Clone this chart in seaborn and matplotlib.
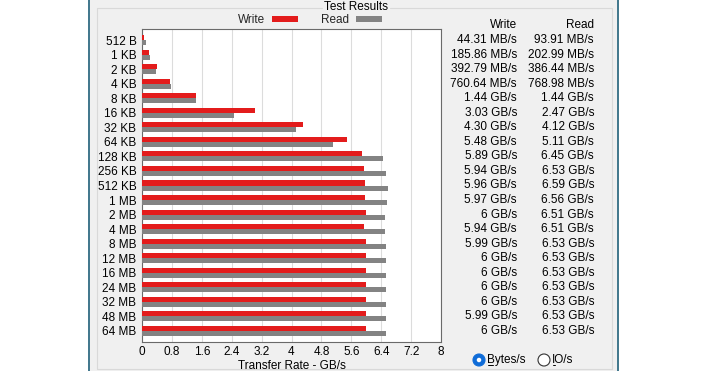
import matplotlib
matplotlib.use("Agg")
import matplotlib.pyplot as plt
import matplotlib.transforms as mtransforms
from matplotlib.patches import Rectangle, Ellipse
from matplotlib.lines import Line2D
import seaborn as sns
import pandas as pd

# ---- data ----
sizes = ["512 B", "1 KB", "2 KB", "4 KB", "8 KB", "16 KB", "32 KB", "64 KB",
         "128 KB", "256 KB", "512 KB", "1 MB", "2 MB", "4 MB", "8 MB",
         "12 MB", "16 MB", "24 MB", "32 MB", "48 MB", "64 MB"]
write_gbs = [0.04431, 0.18586, 0.39279, 0.76064, 1.44, 3.03, 4.30, 5.48,
             5.89, 5.94, 5.96, 5.97, 6.00, 5.94, 5.99, 6.00, 6.00, 6.00,
             6.00, 5.99, 6.00]
read_gbs = [0.09391, 0.20299, 0.38644, 0.76898, 1.44, 2.47, 4.12, 5.11,
            6.45, 6.53, 6.59, 6.56, 6.51, 6.51, 6.53, 6.53, 6.53, 6.53,
            6.53, 6.53, 6.53]
write_labels = ["44.31 MB/s", "185.86 MB/s", "392.79 MB/s", "760.64 MB/s",
                "1.44 GB/s", "3.03 GB/s", "4.30 GB/s", "5.48 GB/s",
                "5.89 GB/s", "5.94 GB/s", "5.96 GB/s", "5.97 GB/s", "6 GB/s",
                "5.94 GB/s", "5.99 GB/s", "6 GB/s", "6 GB/s", "6 GB/s",
                "6 GB/s", "5.99 GB/s", "6 GB/s"]
read_labels = ["93.91 MB/s", "202.99 MB/s", "386.44 MB/s", "768.98 MB/s",
               "1.44 GB/s", "2.47 GB/s", "4.12 GB/s", "5.11 GB/s",
               "6.45 GB/s", "6.53 GB/s", "6.59 GB/s", "6.56 GB/s",
               "6.51 GB/s", "6.51 GB/s", "6.53 GB/s", "6.53 GB/s",
               "6.53 GB/s", "6.53 GB/s", "6.53 GB/s", "6.53 GB/s",
               "6.53 GB/s"]
x_ticks = [0, 0.8, 1.6, 2.4, 3.2, 4, 4.8, 5.6, 6.4, 7.2, 8]
x_tick_labels = ["0", "0.8", "1.6", "2.4", "3.2", "4", "4.8", "5.6", "6.4",
                 "7.2", "8"]
series = ["Write", "Read"]

df = pd.DataFrame({
    "size": sizes * 2,
    "rate": write_gbs + read_gbs,
    "kind": [series[0]] * len(sizes) + [series[1]] * len(sizes),
})

# ---- style ----
sns.set_theme(style="white")
plt.rcParams["font.family"] = ["Liberation Sans", "DejaVu Sans"]
FS = 8.5
plt.rcParams["font.size"] = FS

W, H = 708, 371
fig = plt.figure(figsize=(W / 100, H / 100), dpi=100)
fig.patch.set_facecolor("white")

def fx(px):
    return px / W

def fy(py):
    return 1 - py / H

PANEL = "#f0f0f0"
TXT = "#000000"
RED = "#e31c1c"
GRAY = "#838383"

# window panel
fig.add_artist(Rectangle((fx(90), 0), fx(617) - fx(90), 1,
                         transform=fig.transFigure, facecolor=PANEL,
                         edgecolor="none", zorder=-5))
for xp in (89.5, 617.5):
    fig.add_artist(Line2D([fx(xp), fx(xp)], [0, 1], transform=fig.transFigure,
                          color="#1f5f78", lw=1.2, zorder=-4))
# group box
gb = "#d9d9d9"
def gline(x0, y0, x1, y1):
    fig.add_artist(Line2D([fx(x0), fx(x1)], [fy(y0), fy(y1)],
                          transform=fig.transFigure, color=gb, lw=0.8,
                          zorder=-4))
gline(97, 8, 97, 369)
gline(612, 8, 612, 369)
gline(97, 369, 612, 369)
gline(97, 8, 322, 8)
gline(390, 8, 612, 8)
fig.text(fx(356), fy(7), "Test Results", ha="center", va="center",
         fontsize=FS, color=TXT)

# main axes
ax = fig.add_axes([fx(142), fy(342), fx(441) - fx(142), (342 - 29) / H])
ax.set_zorder(2)
ax.set_facecolor("white")

sns.barplot(data=df, y="size", x="rate", hue="kind", order=sizes,
            hue_order=series, palette=[RED, GRAY], orient="h",
            width=0.69, saturation=1, errorbar=None, linewidth=0, ax=ax,
            zorder=3)

ax.set_xlim(0, 8)
ax.set_ylim(len(sizes) - 1 + 0.76, -0.76)
ax.set_xticks(x_ticks)
ax.set_xticklabels(x_tick_labels)
ax.tick_params(axis="both", length=0, labelsize=FS, colors=TXT)
ax.tick_params(axis="x", pad=3)
ax.tick_params(axis="y", pad=4)
ax.grid(axis="x", color="#dcdcdc", lw=0.8, zorder=0)
ax.grid(axis="y", visible=False)
ax.set_axisbelow(True)
for s in ax.spines.values():
    s.set_color("#6a6a6a")
    s.set_linewidth(0.8)
ax.set_ylabel("")
ax.set_xlabel("Transfer Rate - GB/s", fontsize=FS, color=TXT, labelpad=1)

sns.move_legend(ax, "center", bbox_to_anchor=(fx(310), fy(20)),
                bbox_transform=fig.transFigure, ncol=2, frameon=False,
                title=None, markerfirst=False, handlelength=2.2,
                handleheight=0.45, handletextpad=0.6, columnspacing=2.0,
                fontsize=FS)

# value table
tr = mtransforms.blended_transform_factory(fig.transFigure, ax.transData)
fig.text(fx(517), fy(25), "Write", ha="right", va="center", fontsize=FS, color=TXT)
fig.text(fx(594), fy(25), "Read", ha="right", va="center", fontsize=FS, color=TXT)
for i in range(len(sizes)):
    ax.text(fx(517), i, write_labels[i], transform=tr, ha="right",
            va="center", fontsize=FS, color=TXT, clip_on=False)
    ax.text(fx(594), i, read_labels[i], transform=tr, ha="right",
            va="center", fontsize=FS, color=TXT, clip_on=False)

# radio buttons
fig.add_artist(Ellipse((fx(479), fy(360)), 12 / W, 12 / H,
                       transform=fig.transFigure, facecolor="#0f6cd8",
                       edgecolor="#0f6cd8", lw=0.8))
fig.add_artist(Ellipse((fx(479), fy(360)), 4.5 / W, 4.5 / H,
                       transform=fig.transFigure, facecolor="white",
                       edgecolor="none"))
fig.text(fx(487), fy(360), "Bytes/s", ha="left", va="center", fontsize=FS, color=TXT)
fig.add_artist(Line2D([fx(487.5), fx(493)], [fy(365), fy(365)],
                      transform=fig.transFigure, color=TXT, lw=0.7))
fig.add_artist(Ellipse((fx(544), fy(360)), 12 / W, 12 / H,
                       transform=fig.transFigure, facecolor="white",
                       edgecolor="#333333", lw=0.8))
fig.text(fx(552), fy(360), "IO/s", ha="left", va="center", fontsize=FS, color=TXT)
fig.add_artist(Line2D([fx(552.5), fx(555)], [fy(365), fy(365)],
                      transform=fig.transFigure, color=TXT, lw=0.7))

fig.savefig("out.png", dpi=100, facecolor=fig.get_facecolor())
